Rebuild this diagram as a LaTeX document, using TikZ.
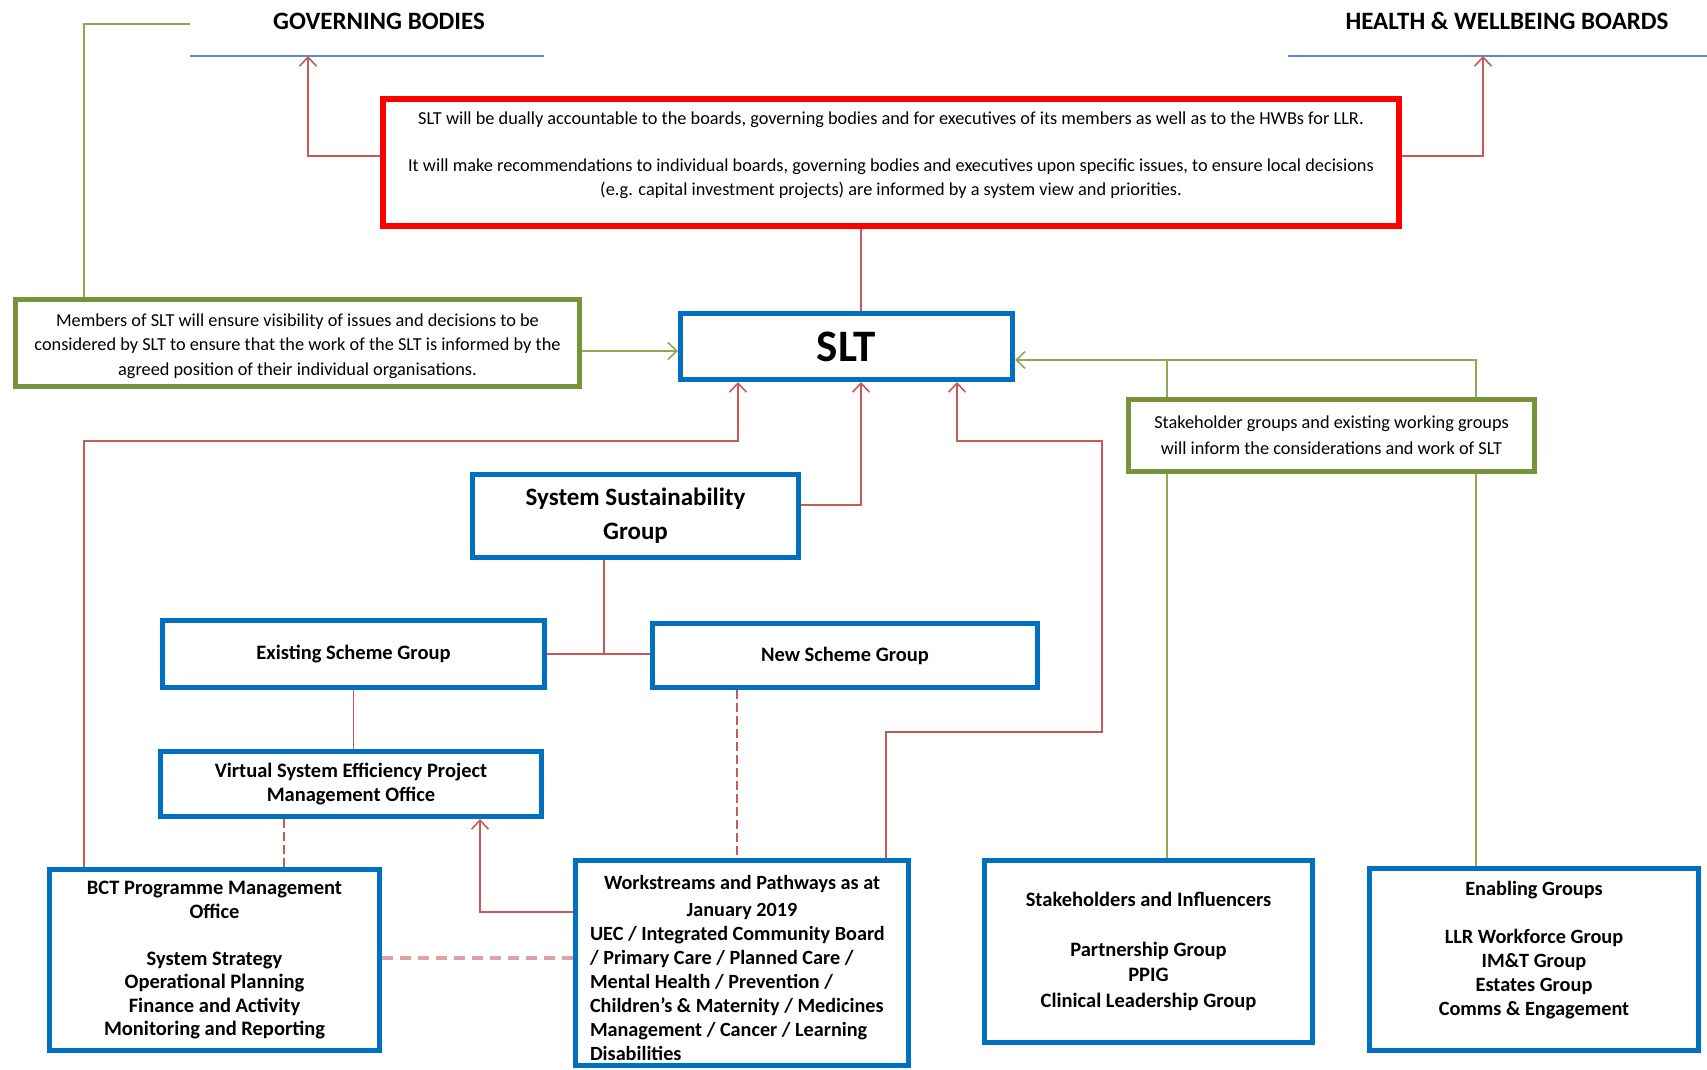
\documentclass[tikz,border=0pt]{standalone}
\usepackage{fontspec}
\setmainfont{Carlito}
\usetikzlibrary{arrows.meta}
\definecolor{boxblue}{HTML}{0070C0}
\definecolor{boxgreen}{HTML}{77933C}
\definecolor{linkgreen}{HTML}{8EAA50}
\definecolor{linkred}{HTML}{C55A57}
\definecolor{dashpink}{HTML}{DDA3A2}
\definecolor{headblue}{HTML}{5B8BD0}
\begin{document}
\begin{tikzpicture}[x=1pt,y=-1pt,
  box/.style={draw=boxblue,line width=5pt,fill=white,align=center,inner sep=0pt,
    anchor=north west,font=\bfseries\fontsize{20.5}{23.5}\selectfont},
  notebox/.style={draw=boxgreen,line width=5pt,fill=white,align=center,inner sep=0pt,
    anchor=north west,font=\fontsize{18.3}{24.8}\selectfont},
  redbox/.style={draw=red,line width=6pt,fill=white,anchor=north west,inner sep=0pt},
  txt/.style={align=center,inner sep=0pt},
  rline/.style={draw=linkred,line width=1.6pt},
  rarrow/.style={rline,-{Straight Barb[length=9pt,width=17pt]}},
  gline/.style={draw=linkgreen,line width=1.6pt},
  garrow/.style={gline,-{Straight Barb[length=9pt,width=17pt]}},
  hline/.style={draw=headblue,line width=1.6pt},
  head/.style={font=\bfseries\fontsize{25}{28}\selectfont,inner sep=0pt},
]
\useasboundingbox (0,0) rectangle (1707,1069);

% ---- headings of the two bodies SLT reports to
\node[head] (gb) at (379,21) {GOVERNING BODIES};
\node[head] (hw) at (1507,21) {HEALTH \& WELLBEING BOARDS};
\coordinate (gbl) at (190,56);
\coordinate (gbr) at (544,56);
\coordinate (hwl) at (1288,56);
\coordinate (hwr) at (1707,56);
\draw[hline] (gbl) -- (gbr);
\draw[hline] (hwl) -- (hwr);

% ---- accountability statement
\node[redbox,minimum width=1016pt,minimum height=127pt] (acct) at (380,96) {};
\node[txt,font=\fontsize{18.3}{23.5}\selectfont] (accttext) at (891,155)
  {SLT will be dually accountable to the boards, governing bodies and for executives of its members as well as to the HWBs for LLR.\\[23.5pt]
   It will make recommendations to individual boards, governing bodies and executives upon specific issues, to ensure local decisions\\
   (e.g. capital investment projects) are informed by a system view and priorities.};

% ---- SLT and the note boxes around it
\node[box,minimum width=332pt,minimum height=66pt,font=\bfseries\fontsize{45}{48}\selectfont] (slt) at (678,311) {SLT};
\node[notebox,minimum width=564pt,minimum height=87pt] (memb) at (13,297)
  {\rule{0pt}{19pt}Members of SLT will ensure visibility of issues and decisions to be\\
   considered by SLT to ensure that the work of the SLT is informed by the\\
   agreed position of their individual organisations.};
\node[notebox,minimum width=406pt,minimum height=72pt,font=\fontsize{18.3}{26}\selectfont] (stk) at (1126,397)
  {Stakeholder groups and existing working groups\\will inform the considerations and work of SLT};

% ---- groups
\node[box,minimum width=326pt,minimum height=83pt,font=\bfseries\fontsize{25}{34}\selectfont] (ssg) at (470,472)
  {System Sustainability\\Group};
\node[box,minimum width=382pt,minimum height=67pt] (esg) at (160,618) {Existing Scheme Group};
\node[box,minimum width=385pt,minimum height=64pt] (nsg) at (650,621) {New Scheme Group};
\node[box,minimum width=381pt,minimum height=65pt] (vse) at (158,749)
  {Virtual System Efficiency Project\\Management Office};
\node[box,minimum width=330pt,minimum height=181pt] (bct) at (47,867)
  {BCT Programme Management\\Office\\[23.5pt]System Strategy\\Operational Planning\\Finance and Activity\\Monitoring and Reporting};
\node[box,minimum width=333pt,minimum height=205pt,font=\bfseries\fontsize{20.2}{24}\selectfont] (ws) at (573,858)
  {\parbox{304pt}{\vspace*{10pt}\centering Workstreams and Pathways as at\\[3pt]January 2019\par
   \raggedright UEC / Integrated Community Board\\/ Primary Care / Planned Care /\\Mental Health / Prevention /\\
   Children’s \& Maternity / Medicines\\Management / Cancer / Learning\\Disabilities}};
\node[box,minimum width=328pt,minimum height=182pt,font=\bfseries\fontsize{20.5}{25.5}\selectfont] (si) at (982,858)
  {Stakeholders and Influencers\\[24pt]Partnership Group\\PPIG\\Clinical Leadership Group};
\node[box,minimum width=329pt,minimum height=182pt] (eg) at (1367,866) {};
\node[txt,font=\bfseries\fontsize{20.3}{24}\selectfont] (egtext) at (1534,950)
  {Enabling Groups\\[24pt]LLR Workforce Group\\IM\&T Group\\Estates Group\\Comms \& Engagement};

% ---- routing coordinates
\coordinate (gbx) at (84,24);
\coordinate (accy) at (0,156);
\coordinate (gbarr) at (308,56);
\coordinate (hwarr) at (1483,56);
\coordinate (ax) at (861,0);
\coordinate (my) at (0,351);
\coordinate (sy) at (0,360);
\coordinate (s1) at (1167,0);
\coordinate (s2) at (1476,0);
\coordinate (ssgy) at (0,505);
\coordinate (ly) at (0,441);
\coordinate (bx) at (84,0);
\coordinate (bx2) at (738,0);
\coordinate (wx) at (886,732);
\coordinate (wx2) at (1102,0);
\coordinate (wx3) at (957,0);
\coordinate (jx) at (604,654);
\coordinate (vx) at (284,0);
\coordinate (nx) at (737,0);
\coordinate (wsy) at (0,912);
\coordinate (vx2) at (480,0);
\coordinate (dy) at (0,958);

% ---- accountability links
\draw[gline] (memb.north -| gbx) -- (gbx) -- (gbl |- gbx);
\draw[rarrow] (acct.west |- accy) -| (gbarr);
\draw[rarrow] (acct.east |- accy) -| (hwarr);
\draw[rline] (acct.south -| ax) -- (slt.north -| ax);

% ---- inputs to SLT
\draw[garrow] (memb.east |- my) -- (slt.west |- my);
\draw[garrow] (s2 |- stk.north) -- (s2 |- sy) -- (slt.east |- sy);
\draw[gline] (s1 |- stk.north) -- (s1 |- sy);
\draw[gline] (s1 |- stk.south) -- (s1 |- si.north);
\draw[gline] (s2 |- stk.south) -- (s2 |- eg.north);
\draw[rarrow] (ssg.east |- ssgy) -| (slt.south -| ax);
\draw[rarrow] (bct.north -| bx) -- (bx |- ly) -| (slt.south -| bx2);
\draw[rarrow] (ws.north -| wx) -- (wx) -| (wx2 |- ly) -| (slt.south -| wx3);

% ---- group structure
\draw[rline] (ssg.south -| jx) -- (jx);
\draw[rline] (esg.east |- jx) -- (nsg.west |- jx);
\draw[rline] (esg.south) -- (vse.north -| esg.south);
\draw[rline,dash pattern=on 9pt off 4pt] (vse.south -| vx) -- (bct.north -| vx);
\draw[rline,dash pattern=on 9pt off 4pt] (nsg.south -| nx) -- (ws.north -| nx);
\draw[rarrow] (ws.west |- wsy) -| (vse.south -| vx2);
\draw[draw=dashpink,line width=4pt,dash pattern=on 11pt off 7pt] (bct.east |- dy) -- (ws.west |- dy);
\end{tikzpicture}
\end{document}
